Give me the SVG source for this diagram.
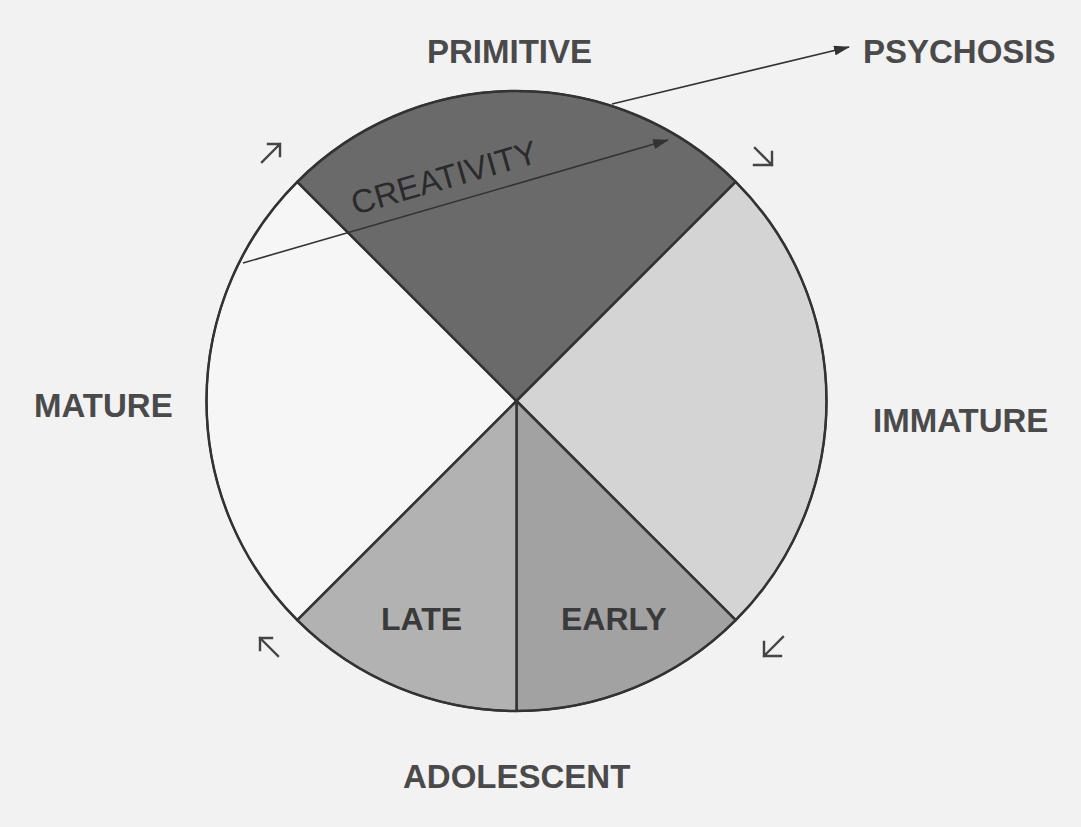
<svg xmlns="http://www.w3.org/2000/svg" width="1081" height="827" viewBox="0 0 1081 827">
<defs>
<marker id="tri" markerWidth="16" markerHeight="10" refX="15" refY="5" orient="auto" markerUnits="userSpaceOnUse">
<path d="M0,0 L16,5 L0,10 Z" fill="#333"/>
</marker>
<style>
.lbl{font-family:"Liberation Sans",Arial,sans-serif;font-weight:bold;font-size:33px;fill:#4a4a4a}
.in{font-family:"Liberation Sans",Arial,sans-serif;font-weight:bold;font-size:32px;fill:#3a3a3a}
.edge{stroke:#333;stroke-width:2.5;stroke-linejoin:round}
.conn{stroke:#333;stroke-width:1.6;fill:none}
.small{stroke:#444;stroke-width:2.4;fill:none;stroke-linecap:square}
</style>
</defs>
<rect width="1081" height="827" fill="#f2f2f2"/>
<g id="wheel">
<path id="mature-sector" class="edge" fill="#f6f6f6" d="M516.5,401 L297.3,620.2 A310,310 0 0 1 297.3,181.8 Z"/>
<path id="primitive-sector" class="edge" fill="#6a6a6a" d="M516.5,401 L297.3,181.8 A310,310 0 0 1 735.7,181.8 Z"/>
<path id="immature-sector" class="edge" fill="#d4d4d4" d="M516.5,401 L735.7,181.8 A310,310 0 0 1 735.7,620.2 Z"/>
<path id="early-sector" class="edge" fill="#a2a2a2" d="M516.5,401 L735.7,620.2 A310,310 0 0 1 516.5,711 Z"/>
<path id="late-sector" class="edge" fill="#b2b2b2" d="M516.5,401 L516.5,711 A310,310 0 0 1 297.3,620.2 Z"/>
<circle cx="516.5" cy="401" r="310" fill="none" stroke="#333" stroke-width="2"/>
</g>
<g id="labels">
<g id="primitive"><text class="lbl" x="427" y="63">PRIMITIVE</text></g>
<g id="psychosis"><text class="lbl" x="863" y="63">PSYCHOSIS</text></g>
<g id="mature"><text class="lbl" x="34" y="417">MATURE</text></g>
<g id="immature"><text class="lbl" x="873" y="432">IMMATURE</text></g>
<g id="adolescent"><text class="lbl" x="403" y="788">ADOLESCENT</text></g>
<g id="late"><text class="in" x="381" y="630">LATE</text></g>
<g id="early"><text class="in" x="561" y="630">EARLY</text></g>
<g id="creativity"><text transform="translate(355,215) rotate(-16)" font-family="Liberation Sans, Arial, sans-serif" font-size="33" fill="#2a2a2a">CREATIVITY</text></g>
</g>
<g id="connectors">
<line class="conn" x1="243" y1="263" x2="668" y2="140" marker-end="url(#tri)"/>
<line class="conn" x1="612" y1="104" x2="849" y2="47" marker-end="url(#tri)"/>
<path class="small" d="M262,162 L280,144 M268,144 L280,144 L280,156"/>
<path class="small" d="M755,148 L772,165 M754,165 L772,165 L772,152"/>
<path class="small" d="M278,656 L260,638 M272,638 L260,638 L260,650"/>
<path class="small" stroke-width="3" d="M783,637 L764,656 M764,642 L764,656 L781,656"/>
</g>
</svg>
